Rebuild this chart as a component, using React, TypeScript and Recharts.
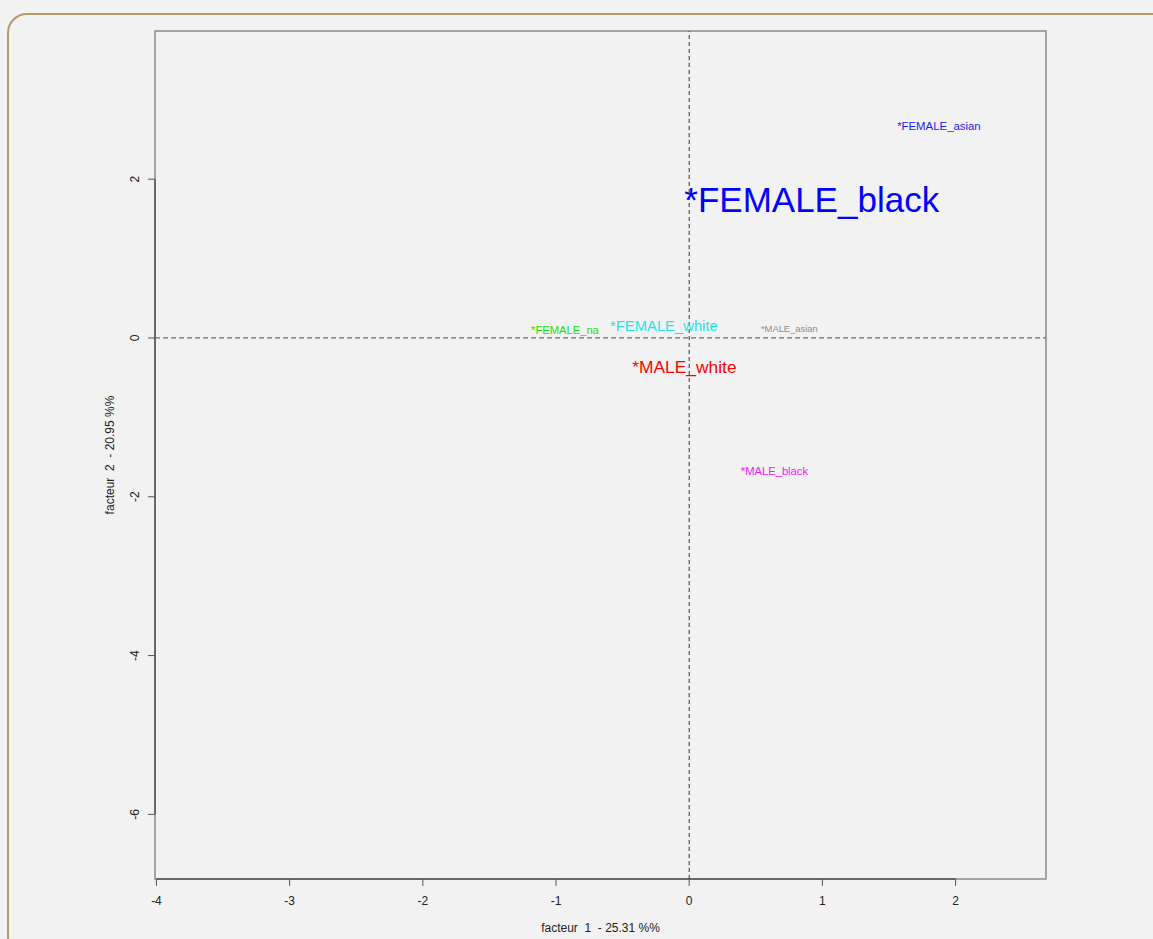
import React from 'react';
import {
  ScatterChart,
  Scatter,
  XAxis,
  YAxis,
  ReferenceLine,
  ReferenceArea,
  Label,
} from 'recharts';

// Modalities projected on the first factorial plane
const categories = [
  '*FEMALE_black',
  '*FEMALE_asian',
  '*FEMALE_white',
  '*FEMALE_na',
  '*MALE_asian',
  '*MALE_white',
  '*MALE_black',
];
const factor1 = [0.92, 1.875, -0.19, -0.933, 0.752, -0.036, 0.64];
const factor2 = [1.748, 2.675, 0.155, 0.105, 0.122, -0.366, -1.678];

// Axis ticks and titles
const xTicks = [-4, -3, -2, -1, 0, 1, 2];
const yTicks = [-6, -4, -2, 0, 2];
const xTitle = 'facteur  1  - 25.31 %%';
const yTitle = 'facteur  2  - 20.95 %%';

// Plot window
const X_MIN = -4.011;
const X_MAX = 2.679;
const Y_MIN = -6.814;
const Y_MAX = 3.866;

// Per-label styling
const labelSizes: Record<string, number> = {
  '*FEMALE_black': 35,
  '*FEMALE_asian': 11.4,
  '*FEMALE_white': 14.8,
  '*FEMALE_na': 11.2,
  '*MALE_asian': 9.4,
  '*MALE_white': 17.4,
  '*MALE_black': 11.2,
};
const labelColors: Record<string, string> = {
  '*FEMALE_black': '#0000ff',
  '*FEMALE_asian': '#1a1aff',
  '*FEMALE_white': '#1ee6e6',
  '*FEMALE_na': '#11e611',
  '*MALE_asian': '#8c8c8c',
  '*MALE_white': '#ff0000',
  '*MALE_black': '#ff10ff',
};

const points = categories.map((name, i) => ({
  name,
  x: factor1[i],
  y: factor2[i],
}));

const FONT = '"Liberation Sans", Arial, Helvetica, sans-serif';
const AXIS_COLOR = '#555';
const BOX_COLOR = '#8a8a8a';

const TextMark = (props: any) => {
  const { cx, cy, payload } = props;
  if (cx == null || cy == null) return null;
  return (
    <text
      x={cx}
      y={cy}
      textAnchor="middle"
      dominantBaseline="central"
      fontFamily={FONT}
      fontSize={labelSizes[payload.name]}
      fill={labelColors[payload.name]}
    >
      {payload.name}
    </text>
  );
};

const YTick = (props: any) => {
  const { x, y, payload } = props;
  return (
    <text
      x={x}
      y={y}
      transform={`rotate(-90 ${x} ${y})`}
      textAnchor="middle"
      fontFamily={FONT}
      fontSize={12}
      fill="#222"
    >
      {payload.value}
    </text>
  );
};

export default function App() {
  return (
    <div
      style={{
        position: 'absolute',
        left: 0,
        top: 0,
        width: 1153,
        height: 939,
        background: '#f2f2f2',
        overflow: 'hidden',
      }}
    >
      <div
        style={{
          position: 'absolute',
          left: 7,
          top: 13,
          width: 1166,
          height: 944,
          boxSizing: 'border-box',
          border: '2px solid #b7996b',
          borderRadius: 20,
        }}
      />
      <div style={{ position: 'absolute', left: 0, top: 0 }}>
        <ScatterChart
          width={1153}
          height={939}
          margin={{ top: 31, right: 107, bottom: 0, left: 95 }}
        >
          <XAxis
            type="number"
            dataKey="x"
            domain={[X_MIN, X_MAX]}
            ticks={xTicks}
            allowDataOverflow
            height={60}
            axisLine={false}
            tickLine={{ stroke: AXIS_COLOR }}
            tickSize={7}
            tickMargin={10}
            tick={{ fontFamily: FONT, fontSize: 12, fill: '#222' }}
            interval={0}
          >
            <Label
              content={(p: any) => {
                const vb = p.viewBox || {};
                const cx = vb.x + vb.width / 2;
                const by = vb.y + 53;
                return (
                  <text
                    x={cx}
                    y={by}
                    textAnchor="middle"
                    fontFamily={FONT}
                    fontSize={12}
                    fill="#222"
                    xmlSpace="preserve"
                    style={{ whiteSpace: 'pre' }}
                  >
                    {xTitle}
                  </text>
                );
              }}
            />
          </XAxis>
          <YAxis
            type="number"
            dataKey="y"
            domain={[Y_MIN, Y_MAX]}
            ticks={yTicks}
            allowDataOverflow
            width={60}
            axisLine={false}
            tickLine={{ stroke: AXIS_COLOR }}
            tickSize={7}
            tickMargin={8.5}
            tick={<YTick />}
            interval={0}
          >
            <Label
              content={(p: any) => {
                const vb = p.viewBox || {};
                const bx = vb.x + 19;
                const cy = vb.y + vb.height / 2;
                return (
                  <text
                    x={bx}
                    y={cy}
                    transform={`rotate(-90 ${bx} ${cy})`}
                    textAnchor="middle"
                    fontFamily={FONT}
                    fontSize={12}
                    fill="#222"
                    xmlSpace="preserve"
                    style={{ whiteSpace: 'pre' }}
                  >
                    {yTitle}
                  </text>
                );
              }}
            />
          </YAxis>

          {/* plot box */}
          <ReferenceArea
            x1={X_MIN}
            x2={X_MAX}
            y1={Y_MIN}
            y2={Y_MAX}
            fill="none"
            stroke={BOX_COLOR}
            strokeWidth={1.5}
          />
          {/* axis lines spanning the tick range */}
          <ReferenceLine
            segment={[
              { x: xTicks[0], y: Y_MIN },
              { x: xTicks[xTicks.length - 1], y: Y_MIN },
            ]}
            stroke={AXIS_COLOR}
            strokeWidth={1.5}
          />
          <ReferenceLine
            segment={[
              { x: X_MIN, y: yTicks[0] },
              { x: X_MIN, y: yTicks[yTicks.length - 1] },
            ]}
            stroke={AXIS_COLOR}
            strokeWidth={1.5}
          />
          {/* origin lines */}
          <ReferenceLine
            y={0}
            stroke="#6e6e6e"
            strokeWidth={1.3}
            strokeDasharray="5 3"
          />
          <ReferenceLine
            x={0}
            stroke="#333"
            strokeWidth={1}
            strokeDasharray="4 3"
          />

          <Scatter
            data={points}
            shape={<TextMark />}
            isAnimationActive={false}
          />
        </ScatterChart>
      </div>
    </div>
  );
}
